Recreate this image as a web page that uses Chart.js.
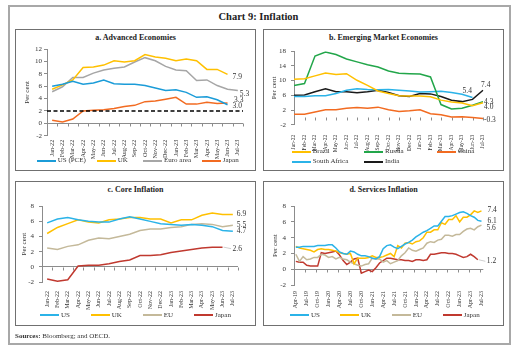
<!DOCTYPE html>
<html><head><meta charset="utf-8">
<script src="https://cdn.jsdelivr.net/npm/chart.js@4.4.0/dist/chart.umd.min.js"></script>
<style>
body{margin:0;width:517px;height:351px;background:#fff;position:relative;overflow:hidden;font-family:"Liberation Serif",serif;color:#222}
#frame{position:absolute;left:8px;top:5px;width:499px;height:336px;border:2px solid #a8a8a8;}
.txt{position:absolute;white-space:nowrap}
#title{left:0;width:517px;top:10px;text-align:center;font-weight:bold;font-size:10.5px;line-height:13px}
.panel{position:absolute;border:1px solid #707070;box-sizing:border-box}
.ptitle{position:absolute;text-align:center;font-weight:bold;font-size:8px;line-height:10px}
canvas{position:absolute}
.lg{position:absolute;font-size:7px;line-height:9px;white-space:nowrap;color:#333}
.lg i{position:absolute;left:0;top:3.5px;width:19px;height:2px}
.lg span{position:absolute;left:21px;top:0}
#sources{left:15px;top:332px;font-size:7px;line-height:9px;color:#333}
</style></head>
<body>
<div id="frame"></div>
<div id="title" class="txt">Chart 9: Inflation</div>

<div class="panel" style="left:15px;top:29px;width:241px;height:142px"></div>
<div class="panel" style="left:263px;top:29px;width:241px;height:142px"></div>
<div class="panel" style="left:15px;top:181px;width:241px;height:145px"></div>
<div class="panel" style="left:263px;top:181px;width:241px;height:145px"></div>

<div class="ptitle" style="left:15px;width:241px;top:33px">a. Advanced Economies</div>
<div class="ptitle" style="left:263px;width:241px;top:33px">b. Emerging Market Economies</div>
<div class="ptitle" style="left:15px;width:241px;top:185px">c. Core Inflation</div>
<div class="ptitle" style="left:263px;width:241px;top:185px">d. Services Inflation</div>

<canvas id="cA" width="238" height="124" style="left:16px;top:42px"></canvas>
<canvas id="cB" width="238" height="113" style="left:264px;top:42px"></canvas>
<canvas id="cC" width="238" height="115" style="left:16px;top:197px"></canvas>
<canvas id="cD" width="238" height="118" style="left:264px;top:197px"></canvas>

<div id="legends"></div>
<div id="sources" class="txt"><b>Sources:</b> Bloomberg; and OECD.</div>

<script>
// ---------------- DATA ----------------
const months = ['Jan-22','Feb-22','Mar-22','Apr-22','May-22','Jun-22','Jul-22','Aug-22','Sep-22','Oct-22','Nov-22','Dec-22','Jan-23','Feb-23','Mar-23','Apr-23','May-23','Jun-23','Jul-23'];

// a. Advanced Economies
const usPCE    = [6.0, 6.3, 6.8, 6.3, 6.5, 7.0, 6.4, 6.3, 6.3, 6.1, 5.7, 5.3, 5.4, 5.0, 4.2, 4.3, 3.8, 3.0];
const ukCPI    = [5.5, 6.2, 7.0, 9.0, 9.1, 9.4, 10.1, 9.9, 10.1, 11.1, 10.7, 10.5, 10.1, 10.4, 10.1, 8.7, 8.7, 7.9];
const euroArea = [5.1, 5.9, 7.4, 7.4, 8.1, 8.6, 8.9, 9.1, 9.9, 10.6, 10.1, 9.2, 8.6, 8.5, 6.9, 7.0, 6.1, 5.5, 5.3];
const japanCPI = [0.5, 0.2, 0.7, 2.0, 2.1, 2.2, 2.4, 2.7, 2.9, 3.5, 3.6, 3.9, 4.2, 3.1, 3.1, 3.4, 3.2, 3.3];
const INFLATION_TARGET = 2;

// b. Emerging Market Economies
const brazil      = [10.4, 10.5, 11.3, 12.1, 11.7, 11.9, 10.1, 8.7, 7.2, 6.5, 5.9, 5.8, 5.8, 5.6, 4.7, 4.2, 3.9, 3.2, 4.0];
const russia      = [8.7, 9.2, 16.7, 17.8, 17.1, 15.9, 15.1, 14.3, 13.7, 12.6, 12.0, 11.9, 11.8, 11.0, 3.5, 2.3, 2.5, 3.3, 4.3];
const china       = [0.9, 0.9, 1.5, 2.1, 2.1, 2.5, 2.7, 2.5, 2.8, 2.1, 1.6, 1.8, 2.1, 1.0, 0.7, 0.1, 0.2, 0.0, -0.3];
const southAfrica = [5.7, 5.7, 5.9, 5.9, 6.5, 7.4, 7.8, 7.6, 7.5, 7.6, 7.4, 7.2, 6.9, 7.0, 7.1, 6.8, 6.3, 5.4];
const india       = [6.0, 6.1, 7.0, 7.8, 7.0, 7.0, 6.7, 7.0, 7.4, 6.8, 5.9, 5.7, 6.5, 6.4, 5.7, 4.7, 4.3, 4.9, 7.4];

// c. Core Inflation
const coreUS    = [5.8, 6.3, 6.5, 6.2, 6.0, 5.9, 5.9, 6.3, 6.6, 6.3, 6.0, 5.7, 5.6, 5.5, 5.6, 5.5, 5.3, 4.8, 4.7];
const coreUK    = [4.4, 5.2, 5.7, 6.2, 5.9, 5.8, 6.2, 6.3, 6.5, 6.5, 6.3, 6.3, 5.8, 6.2, 6.2, 6.8, 7.1, 6.9, 6.9];
const coreEU    = [2.5, 2.3, 2.7, 2.9, 3.5, 3.8, 3.7, 4.0, 4.3, 4.8, 5.0, 5.0, 5.2, 5.3, 5.6, 5.7, 5.6, 5.3, 5.5];
const coreJapan = [-1.6, -1.9, -1.7, 0.1, 0.2, 0.2, 0.4, 0.7, 0.9, 1.5, 1.5, 1.6, 1.9, 2.1, 2.3, 2.5, 2.6, 2.6];

// d. Services Inflation
const monthsD = ['Apr-19','May-19','Jun-19','Jul-19','Aug-19','Sep-19','Oct-19','Nov-19','Dec-19',
 'Jan-20','Feb-20','Mar-20','Apr-20','May-20','Jun-20','Jul-20','Aug-20','Sep-20','Oct-20','Nov-20','Dec-20',
 'Jan-21','Feb-21','Mar-21','Apr-21','May-21','Jun-21','Jul-21','Aug-21','Sep-21','Oct-21','Nov-21','Dec-21',
 'Jan-22','Feb-22','Mar-22','Apr-22','May-22','Jun-22','Jul-22','Aug-22','Sep-22','Oct-22','Nov-22','Dec-22',
 'Jan-23','Feb-23','Mar-23','Apr-23','May-23','Jun-23','Jul-23'];
const servUS = [2.8, 2.8, 2.9, 2.9, 2.9, 2.9, 3.0, 3.0, 3.0,
 3.1, 3.1, 2.7, 2.2, 2.0, 1.9, 2.3, 2.2, 1.9, 1.7, 1.7, 1.6,
 1.4, 1.3, 1.6, 2.6, 3.0, 3.1, 2.8, 2.6, 2.9, 3.2, 3.4, 3.7,
 4.1, 4.4, 4.7, 4.9, 5.2, 5.5, 5.5, 6.1, 6.7, 6.7, 6.8, 7.0,
 7.2, 7.3, 7.1, 6.8, 6.6, 6.2, 6.1];
const servUK = [2.9, 2.7, 2.6, 2.5, 2.4, 2.2, 2.5, 2.6, 2.5,
 2.5, 2.4, 2.3, 2.1, 2.0, 1.9, 2.0, 0.7, 1.4, 1.4, 1.4, 1.5,
 1.7, 1.5, 1.5, 1.6, 1.8, 2.0, 1.6, 3.0, 2.7, 3.3, 3.4, 3.2,
 3.5, 3.6, 4.0, 4.7, 4.7, 5.0, 5.0, 5.9, 5.7, 6.3, 6.3, 6.8,
 6.0, 6.6, 6.6, 6.9, 7.4, 7.2, 7.4];
const servEU = [1.9, 1.0, 1.6, 1.2, 1.3, 1.5, 1.5, 1.9, 1.8,
 1.5, 1.6, 1.3, 1.5, 1.3, 1.2, 0.9, 0.7, 0.5, 0.4, 0.6, 0.7,
 1.4, 1.3, 1.3, 0.9, 1.1, 0.7, 0.9, 1.1, 1.7, 2.1, 2.7, 2.4,
 2.3, 2.5, 2.7, 3.3, 3.5, 3.4, 3.7, 3.8, 4.3, 4.3, 4.2, 4.4,
 4.4, 4.8, 5.1, 5.2, 5.0, 5.4, 5.6];
const servJapan = [1.0, 0.9, 0.9, 0.5, 0.4, 0.4, 0.4, 2.1, 2.0,
 2.1, 2.2, 2.3, 1.8, 1.1, 0.6, 0.9, 1.3, 1.4, -0.5, -0.3, -0.1,
 -0.3, 0.2, 0.8, 1.1, 1.4, 1.4, 1.3, 1.2, 1.2, 1.1, 1.1, 1.0,
 1.2, 1.2, 1.1, 1.2, 1.9, 1.9, 2.0, 2.1, 2.1, 2.0, 2.0, 1.9,
 1.7, 1.5, 1.6, 1.9, 1.6, 1.2];

// ---------------- STYLE ----------------
const FONT = "'Liberation Serif', serif";
const AXIS = '#8c8c8c';
const TEXT = '#333';
const C = {blue:'#1b9cd8', gold:'#ffc000', grey:'#a6a6a6', orange:'#f26b21', green:'#22a64a', black:'#1a1a1a',
           cblue:'#2bb3e8', tan:'#c4b99a', red:'#c0392f'};

// ---------------- PLUGINS ----------------
const zeroAxis = {
  id:'zeroAxis',
  beforeDatasetsDraw(chart, args, o){
    const xs = chart.scales.x, ys = chart.scales.y, ctx = chart.ctx;
    const y0 = Math.round(ys.getPixelForValue(0)) + 0.5;
    const n = chart.data.labels.length;
    const w = xs.getPixelForValue(1) - xs.getPixelForValue(0);
    ctx.save(); ctx.strokeStyle = AXIS; ctx.lineWidth = 1; ctx.beginPath();
    const every = o.every || 1;
    if (o.mode === 'point') {
      for (let i = 0; i < n; i += every){ const x = Math.round(xs.getPixelForValue(i))+0.5; ctx.moveTo(x,y0); ctx.lineTo(x,y0+3); }
    } else {
      for (let i = 0; i <= n; i += every){ const x = Math.round(xs.getPixelForValue(i) - w/2)+0.5; ctx.moveTo(x,y0); ctx.lineTo(x,y0+3); }
    }
    ctx.stroke(); ctx.restore();
  }
};
const targetLine = {
  id:'targetLine',
  afterDatasetsDraw(chart, args, o){
    if (o.value === undefined) return;
    const ys = chart.scales.y, ca = chart.chartArea, ctx = chart.ctx;
    const y = ys.getPixelForValue(o.value);
    ctx.save(); ctx.strokeStyle = '#000'; ctx.lineWidth = 1.4; ctx.setLineDash([4,2.5]);
    ctx.beginPath(); ctx.moveTo(ca.left, y); ctx.lineTo(ca.right, y); ctx.stroke(); ctx.restore();
  }
};
const endLabels = {
  id:'endLabels',
  afterDatasetsDraw(chart, args, o){
    const ctx = chart.ctx; ctx.save();
    ctx.font = '7.5px ' + FONT; ctx.fillStyle = TEXT; ctx.textBaseline = 'middle'; ctx.textAlign = 'left';
    (o.items || []).forEach(it => {
      const data = chart.data.datasets[it.ds].data;
      let i = data.length - 1; while (i >= 0 && data[i] == null) i--;
      const pt = chart.getDatasetMeta(it.ds).data[i];
      const x = pt.x + it.dx, y = pt.y + it.dy;
      if (it.leader) { ctx.strokeStyle = '#cfcfcf'; ctx.lineWidth = 1; ctx.beginPath(); ctx.moveTo(pt.x + 1, pt.y); ctx.lineTo(x - 1.5, y); ctx.stroke(); }
      ctx.fillText(data[i].toFixed(1), x, y);
    });
    ctx.restore();
  }
};
Chart.register(zeroAxis, targetLine, endLabels);

// ---------------- BUILDER ----------------
function build(id, labels, series, o){
  return new Chart(document.getElementById(id), {
    type:'line',
    data:{labels, datasets: series.map(s => ({label:s.label, data:s.data, borderColor:s.color, backgroundColor:s.color,
      borderWidth:1.5, pointRadius:0, tension:0, fill:false}))},
    options:{
      responsive:false, maintainAspectRatio:false, animation:false, devicePixelRatio:1,
      layout:{padding:{left:0, right:o.padR, top:o.padT, bottom:0}},
      plugins:{legend:{display:false}, tooltip:{enabled:false},
        zeroAxis:{mode:o.tickMode, every:o.every||1},
        targetLine:{value:o.target},
        endLabels:{items:o.labels}},
      scales:{
        x:{type:'category', offset:o.offset, grid:{display:false}, border:{display:false},
           ticks:{autoSkip:false, maxRotation:90, minRotation:90, font:{family:FONT, size:o.xFont}, color:TEXT, padding:o.xPad,
                  callback:o.xCb || function(v, i){ return labels[i]; }},
           afterFit:s => { s.height = o.xH; }},
        y:{min:o.min, max:o.max,
           ticks:{stepSize:2, font:{family:FONT, size:7}, color:TEXT, padding:o.yPad},
           grid:{color:c => (c.tick && c.tick.value === 0) ? AXIS : 'rgba(0,0,0,0)', tickColor:AXIS, tickLength:3, lineWidth:1},
           border:{display:true, color:AXIS, width:1},
           title:{display:true, text:'Per cent', font:{family:FONT, size:7}, color:TEXT, padding:{top:o.tPad, bottom:0}},
           afterFit:s => { s.width = o.yW; }}
      }
    }
  });
}

const seriesA = [
  {label:'US (PCE)', data:usPCE, color:C.blue},
  {label:'UK', data:ukCPI, color:C.gold},
  {label:'Euro area', data:euroArea, color:C.grey},
  {label:'Japan', data:japanCPI, color:C.orange}];
const seriesB = [
  {label:'Brazil', data:brazil, color:C.gold},
  {label:'Russia', data:russia, color:C.green},
  {label:'China', data:china, color:C.orange},
  {label:'South Africa', data:southAfrica, color:C.cblue},
  {label:'India', data:india, color:C.black}];
const seriesC = [
  {label:'US', data:coreUS, color:C.cblue},
  {label:'UK', data:coreUK, color:C.gold},
  {label:'EU', data:coreEU, color:C.tan},
  {label:'Japan', data:coreJapan, color:C.red}];
const seriesD = [
  {label:'US', data:servUS, color:C.cblue},
  {label:'UK', data:servUK, color:C.gold},
  {label:'EU', data:servEU, color:C.tan},
  {label:'Japan', data:servJapan, color:C.red}];

build('cA', months, seriesA, {padR:11, padT:7, xH:30.3, yW:31, min:-2, max:12, offset:true, xPad:-4, xFont:6.2, yPad:2, tPad:7,
  tickMode:'boundary', target:INFLATION_TARGET,
  labels:[{ds:1,dx:5,dy:2.5},{ds:2,dx:2,dy:4},{ds:3,dx:6.5,dy:-2.5},{ds:0,dx:5,dy:1}]});
build('cB', months, seriesB, {padR:19, padT:8, xH:30.2, yW:30, min:-2, max:18, offset:false, xPad:2, xFont:5.5, yPad:5, tPad:6,
  tickMode:'point',
  labels:[{ds:4,dx:-2,dy:-5},{ds:3,dx:-10,dy:-6.5},{ds:1,dx:1,dy:0},{ds:0,dx:1,dy:4},{ds:2,dx:1,dy:1}]});
build('cC', months, seriesC, {padR:16, padT:7.3, xH:30, yW:26, min:-2, max:8, offset:true, xPad:1, xFont:6.0, yPad:5, tPad:4,
  tickMode:'boundary',
  labels:[{ds:1,dx:4,dy:-1},{ds:2,dx:4,dy:0},{ds:0,dx:4,dy:-0.5},{ds:3,dx:10,dy:1.5,leader:true}]});
build('cD', monthsD, seriesD, {padR:18.7, padT:7.3, xH:30, yW:30, min:-2, max:8, offset:true, xPad:-2, xFont:6.0, yPad:5, tPad:7,
  tickMode:'boundary', every:3,
  xCb:function(v, i){ return i % 3 === 0 ? monthsD[i] : ''; },
  labels:[{ds:1,dx:6,dy:-1},{ds:0,dx:6,dy:0},{ds:2,dx:5,dy:2.5},{ds:3,dx:9,dy:1.5,leader:true}]});

// ---------------- LEGENDS (HTML) ----------------
const legendPos = {
  A:[[36.7,160.5],[96.7,160.5],[143,160.5],[201.7,160.5]],
  B:[[291.7,151.5],[364,151.5],[436.7,151.5],[291.7,161.5],[364,161.5]],
  C:[[40,315],[90.7,315],[142.7,315],[194,315]],
  D:[[290,315],[340,315],[391.7,315],[442.7,315]]
};
const lgRoot = document.getElementById('legends');
[['A',seriesA],['B',seriesB],['C',seriesC],['D',seriesD]].forEach(([k, ser]) => {
  ser.forEach((s, i) => {
    const [x, y] = legendPos[k][i];
    const d = document.createElement('div');
    d.className = 'lg'; d.style.left = x + 'px'; d.style.top = (y - 4.5) + 'px';
    d.innerHTML = '<i style="background:' + s.color + '"></i><span>' + s.label + '</span>';
    lgRoot.appendChild(d);
  });
});
</script>
</body></html>
